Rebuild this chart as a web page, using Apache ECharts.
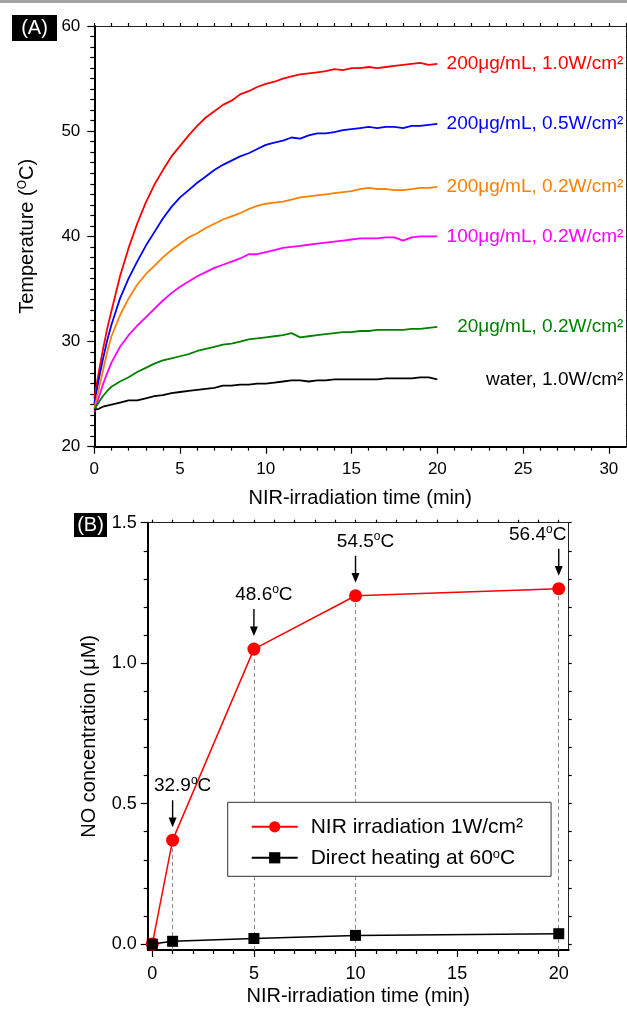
<!DOCTYPE html>
<html>
<head>
<meta charset="utf-8">
<script src="https://cdn.jsdelivr.net/npm/echarts@6/dist/echarts.min.js"></script>
<style>
  html, body { margin: 0; padding: 0; background: #fff; }
  #chart { width: 627px; height: 1009px; }
</style>
</head>
<body>
<div id="chart"></div>
<script>
const FONT = '"Liberation Sans", Arial, Helvetica, sans-serif';

// ---- Panel A: temperature vs. NIR irradiation time ----
const TIME_A = [0, 0.25, 0.5, 0.75, 1, 1.5, 2, 2.5, 3, 3.5, 4, 4.5, 5, 5.5, 6, 6.5, 7, 7.5, 8, 8.5,
  9, 9.5, 10, 10.5, 11, 11.5, 12, 12.5, 13, 13.5, 14, 14.5, 15, 15.5, 16, 16.5, 17, 17.5, 18, 18.5,
  19, 19.5, 20];

const TEMP_200_10 = [24.6, 27.0, 29.2, 31.2, 32.9, 36.2, 38.9, 41.2, 43.2, 44.9, 46.3, 47.6, 48.6, 49.6,
  50.5, 51.3, 51.9, 52.5, 52.9, 53.5, 53.8, 54.2, 54.5, 54.7, 55.0, 55.2, 55.4, 55.5, 55.6, 55.7,
  55.9, 55.8, 56.0, 56.0, 56.1, 56.0, 56.1, 56.2, 56.3, 56.4, 56.5, 56.3, 56.4];
const TEMP_200_05 = [24.1, 26.3, 28.3, 30.1, 31.6, 34.1, 36.0, 37.6, 39.1, 40.4, 41.7, 42.8, 43.7, 44.4,
  45.1, 45.7, 46.3, 46.8, 47.2, 47.6, 47.9, 48.3, 48.7, 48.9, 49.1, 49.4, 49.3, 49.6, 49.8, 49.8,
  49.9, 50.1, 50.2, 50.3, 50.4, 50.3, 50.4, 50.4, 50.3, 50.5, 50.5, 50.6, 50.7];
const TEMP_200_02 = [23.6, 25.4, 27.2, 29.0, 30.5, 32.5, 34.1, 35.4, 36.4, 37.2, 38.0, 38.7, 39.3, 39.9,
  40.3, 40.8, 41.2, 41.6, 41.9, 42.2, 42.6, 42.9, 43.1, 43.2, 43.3, 43.5, 43.7, 43.8, 43.9, 44.0,
  44.1, 44.2, 44.3, 44.5, 44.6, 44.5, 44.5, 44.4, 44.4, 44.5, 44.6, 44.6, 44.7];
const TEMP_100_02 = [23.3, 24.6, 25.9, 27.0, 28.0, 29.5, 30.6, 31.5, 32.3, 33.1, 33.9, 34.6, 35.2, 35.7,
  36.2, 36.6, 37.0, 37.3, 37.6, 37.9, 38.3, 38.3, 38.5, 38.7, 38.9, 39.0, 39.1, 39.2, 39.3, 39.4,
  39.5, 39.6, 39.7, 39.8, 39.8, 39.8, 39.9, 39.9, 39.6, 39.9, 40.0, 40.0, 40.0];
const TEMP_20_02 = [23.5, 24.2, 24.8, 25.3, 25.7, 26.2, 26.6, 27.1, 27.5, 27.9, 28.2, 28.4, 28.6, 28.8,
  29.1, 29.3, 29.5, 29.7, 29.8, 30.0, 30.2, 30.3, 30.4, 30.5, 30.6, 30.8, 30.4, 30.5, 30.6, 30.7,
  30.8, 30.9, 30.9, 31.0, 31.0, 31.1, 31.1, 31.1, 31.1, 31.2, 31.2, 31.3, 31.4];
const TEMP_WATER = [23.5, 23.6, 23.8, 23.9, 24.0, 24.2, 24.4, 24.4, 24.6, 24.8, 24.9, 25.1, 25.2, 25.3,
  25.4, 25.5, 25.6, 25.8, 25.8, 25.9, 25.9, 26.0, 26.0, 26.1, 26.2, 26.3, 26.3, 26.2, 26.3, 26.3,
  26.4, 26.4, 26.4, 26.4, 26.4, 26.4, 26.5, 26.5, 26.5, 26.5, 26.6, 26.6, 26.4];

const CURVE_VALUES = [TEMP_200_10, TEMP_200_05, TEMP_200_02, TEMP_100_02, TEMP_20_02, TEMP_WATER];
const CURVE_NAMES = [
  '200μg/mL, 1.0W/cm²',
  '200μg/mL, 0.5W/cm²',
  '200μg/mL, 0.2W/cm²',
  '100μg/mL, 0.2W/cm²',
  '20μg/mL, 0.2W/cm²',
  'water, 1.0W/cm²'
];
const CURVE_COLORS = ['#ff0000', '#0000ff', '#ff8000', '#ff00ff', '#008000', '#000000'];

const X_TICKS_A = [0, 5, 10, 15, 20, 25, 30];
const Y_TICKS_A = [20, 30, 40, 50, 60];

// ---- Panel B: NO release ----
const TIME_B = [0, 1, 5, 10, 20];
const NO_NIR = [0, 0.37, 1.05, 1.24, 1.265];
const NO_HEAT = [0, 0.01, 0.02, 0.031, 0.037];
const MARK_TIME = [1, 5, 10, 20];
const MARK_TEMP = [32.9, 48.6, 54.5, 56.4];
const LEGEND_B = ['NIR irradiation 1W/cm²', 'Direct heating at 60°C'];
const LEGEND_B_RICH = ['NIR irradiation 1W/cm²', 'Direct heating at 60{s|o}C'];

const X_TICKS_B = [0, 5, 10, 15, 20];
const Y_TICKS_B = [0, 0.5, 1.0, 1.5];

// axis extents
const X_A = [0, 31], Y_A = [20, 60];
const X_B = [-0.226, 20.49], Y_B = [-0.021, 1.5];

function steps(a, b, s) {
  const out = [];
  for (let v = a; v <= b + 1e-9; v += s) out.push(Math.round(v * 1000) / 1000);
  return out;
}
function minors(a, b, s, major) {
  return steps(a, b, s).filter(v => !major.some(m => Math.abs(m - v) < 1e-6));
}

const BLACK = '#000';

function baseAxis(o) {
  return Object.assign({
    type: 'value',
    splitLine: { show: false },
    axisLine: { show: false, onZero: false },
    axisTick: { show: false },
    axisLabel: { show: false },
    minorTick: { show: false },
    silent: true,
    nameMoveOverlap: false
  }, o);
}
function mainLine() { return { show: true, onZero: false, lineStyle: { color: BLACK, width: 2 } }; }
function thinLine() { return { show: true, onZero: false, lineStyle: { color: '#222', width: 1 } }; }
function ticks(len, values) {
  const t = { show: true, inside: false, length: len, lineStyle: { color: BLACK, width: 1.2 } };
  if (values) t.customValues = values;
  return t;
}

const xAxes = [
  // 0: panel A bottom
  baseAxis({
    gridIndex: 0, position: 'bottom', min: X_A[0], max: X_A[1],
    axisLine: mainLine(), axisTick: ticks(7, X_TICKS_A),
    axisLabel: { show: true, customValues: X_TICKS_A, margin: 14, fontSize: 17, color: BLACK, fontFamily: FONT },
    name: 'NIR-irradiation time (min)', nameLocation: 'middle', nameGap: 42,
    nameTextStyle: { fontSize: 20, color: BLACK, fontFamily: FONT }
  }),
  // 1: panel A top frame
  baseAxis({
    gridIndex: 0, position: 'top', min: X_A[0], max: X_A[1],
    axisLine: thinLine(), axisTick: ticks(3, steps(0, 31, 1))
  }),
  // 2: panel A bottom minor ticks
  baseAxis({
    gridIndex: 1, position: 'bottom', min: X_A[0], max: X_A[1],
    axisTick: ticks(4, minors(0, 30, 1, X_TICKS_A))
  }),
  // 3: panel B bottom
  baseAxis({
    gridIndex: 2, position: 'bottom', min: X_B[0], max: X_B[1],
    axisLine: mainLine(), axisTick: ticks(7, X_TICKS_B),
    axisLabel: { show: true, customValues: X_TICKS_B, margin: 15, fontSize: 18, color: BLACK, fontFamily: FONT },
    name: 'NIR-irradiation time (min)', nameLocation: 'middle', nameGap: 36,
    nameTextStyle: { fontSize: 20, color: BLACK, fontFamily: FONT }
  }),
  // 4: panel B top frame
  baseAxis({
    gridIndex: 2, position: 'top', min: X_B[0], max: X_B[1],
    axisLine: thinLine(), axisTick: ticks(3, steps(0, 20, 1))
  }),
  // 5: panel B bottom minor ticks
  baseAxis({
    gridIndex: 3, position: 'bottom', min: X_B[0], max: X_B[1],
    axisTick: ticks(4, minors(0, 20, 1, X_TICKS_B))
  })
];

const yAxes = [
  // 0: panel A left
  baseAxis({
    gridIndex: 0, position: 'left', min: Y_A[0], max: Y_A[1],
    axisLine: mainLine(), axisTick: ticks(7, Y_TICKS_A),
    axisLabel: { show: true, customValues: Y_TICKS_A, margin: 14, fontSize: 17, color: BLACK, fontFamily: FONT },
    name: 'Temperature ({s|O}C)', nameLocation: 'middle', nameGap: 56,
    nameTextStyle: {
      fontSize: 20, color: BLACK, fontFamily: FONT, lineHeight: 22,
      rich: { s: { fontSize: 12, fontFamily: FONT, color: BLACK, verticalAlign: 'top', lineHeight: 12 } }
    }
  }),
  // 1: panel A right frame
  baseAxis({
    gridIndex: 0, position: 'right', min: Y_A[0], max: Y_A[1],
    axisLine: thinLine(), axisTick: ticks(3, steps(20, 60, 1))
  }),
  // 2: panel A minor ticks (left)
  baseAxis({
    gridIndex: 1, position: 'left', min: Y_A[0], max: Y_A[1],
    axisTick: ticks(4, minors(20, 60, 1, Y_TICKS_A))
  }),
  // 3: panel B left
  baseAxis({
    gridIndex: 2, position: 'left', min: Y_B[0], max: Y_B[1],
    axisLine: mainLine(), axisTick: ticks(7, Y_TICKS_B),
    axisLabel: {
      show: true, customValues: Y_TICKS_B, margin: 11, fontSize: 18, color: BLACK, fontFamily: FONT,
      formatter: v => v.toFixed(1)
    },
    name: 'NO concentration (μM)', nameLocation: 'middle', nameGap: 48,
    nameTextStyle: { fontSize: 20, color: BLACK, fontFamily: FONT }
  }),
  // 4: panel B right frame
  baseAxis({
    gridIndex: 2, position: 'right', min: Y_B[0], max: Y_B[1],
    axisLine: thinLine(), axisTick: ticks(3, steps(0, 1.5, 0.1))
  }),
  // 5: panel B minor ticks (left)
  baseAxis({
    gridIndex: 3, position: 'left', min: Y_B[0], max: Y_B[1],
    axisTick: ticks(4, minors(0, 1.5, 0.1, Y_TICKS_B))
  })
];

const gridA = { left: 94.3, top: 26, width: 531.7, height: 420.7, outerBoundsMode: 'none' };
const gridB = { left: 147.7, top: 522.7, width: 421, height: 427.3, outerBoundsMode: 'none' };

const curveSeries = CURVE_VALUES.map((vals, i) => ({
  type: 'line',
  name: CURVE_NAMES[i],
  xAxisIndex: 0, yAxisIndex: 0,
  data: TIME_A.map((t, j) => [t, vals[j]]),
  showSymbol: false, symbol: 'none',
  lineStyle: { color: CURVE_COLORS[i], width: 1.8 },
  itemStyle: { color: CURVE_COLORS[i] },
  endLabel: {
    show: true, formatter: CURVE_NAMES[i], color: CURVE_COLORS[i],
    fontSize: 19, fontFamily: FONT, align: 'right', distance: 186
  },
  silent: true
}));

const ARROW = 'path://M3.3,0 L4.7,0 L4.7,18 L8,18 L4,28 L0,18 L3.3,18 Z';

const nirSeries = {
  type: 'line',
  name: LEGEND_B[0],
  xAxisIndex: 3, yAxisIndex: 3,
  data: TIME_B.map((t, i) => [t, NO_NIR[i]]),
  symbol: 'circle', symbolSize: 13, showSymbol: true,
  lineStyle: { color: '#ff0000', width: 1.5 },
  itemStyle: { color: '#ff0000' },
  z: 2,
  markLine: {
    silent: true, symbol: ['none', 'none'], z: 1,
    label: { show: false },
    lineStyle: { type: [4, 3], color: '#8c8c8c', width: 1 },
    data: MARK_TIME.map(t => {
      const v = NO_NIR[TIME_B.indexOf(t)];
      return [{ coord: [t, Y_B[0]] }, { coord: [t, v] }];
    })
  },
  markPoint: {
    silent: true,
    symbol: ARROW, symbolSize: [8, 27], symbolOffset: [0, -26.5],
    itemStyle: { color: BLACK },
    label: {
      show: true, position: 'top', distance: 3, color: BLACK, fontSize: 19, fontFamily: FONT,
      lineHeight: 22,
      formatter: p => p.value.toFixed(1) + '{s|o}C',
      rich: { s: { fontSize: 12, fontFamily: FONT, color: BLACK, verticalAlign: 'top', lineHeight: 12 } }
    },
    data: MARK_TIME.map((t, i) => ({
      coord: [t, NO_NIR[TIME_B.indexOf(t)]],
      value: MARK_TEMP[i],
      label: { offset: [i === MARK_TIME.length - 1 ? -21 : 10, 0] }
    }))
  }
};

const heatSeries = {
  type: 'line',
  name: LEGEND_B[1],
  xAxisIndex: 3, yAxisIndex: 3,
  data: TIME_B.map((t, i) => [t, NO_HEAT[i]]),
  symbol: 'rect', symbolSize: 11, showSymbol: true,
  lineStyle: { color: BLACK, width: 1.5 },
  itemStyle: { color: BLACK },
  z: 3
};

const option = {
  animation: false,
  backgroundColor: '#fff',
  textStyle: { fontFamily: FONT },
  grid: [gridA, Object.assign({}, gridA), gridB, Object.assign({}, gridB)],
  xAxis: xAxes,
  yAxis: yAxes,
  legend: {
    data: LEGEND_B,
    orient: 'vertical',
    left: 227.7, top: 802.3,
    padding: [14, 28, 8, 23],
    itemWidth: 46, itemHeight: 14, itemGap: 10,
    borderColor: '#333', borderWidth: 1,
    backgroundColor: '#fff',
    selectedMode: false,
    formatter: name => LEGEND_B_RICH[LEGEND_B.indexOf(name)],
    textStyle: {
      fontSize: 21, color: BLACK, fontFamily: FONT, lineHeight: 20, padding: [0, 0, 0, 8],
      rich: { s: { fontSize: 13, fontFamily: FONT, color: BLACK, verticalAlign: 'top', lineHeight: 12 } }
    }
  },
  series: curveSeries.concat([nirSeries, heatSeries]),
  graphic: [
    { type: 'rect', silent: true, shape: { x: 0, y: 0, width: 627, height: 3 }, style: { fill: '#a3a3a3' } },
    { type: 'rect', silent: true, shape: { x: 12, y: 15, width: 45, height: 26 }, style: { fill: '#000' } },
    { type: 'text', silent: true, x: 34.5, y: 28,
      style: { text: '(A)', fill: '#fff', font: '20px ' + FONT, align: 'center', verticalAlign: 'middle' } },
    { type: 'rect', silent: true, shape: { x: 74, y: 513, width: 33, height: 24 }, style: { fill: '#000' } },
    { type: 'text', silent: true, x: 90.5, y: 525.5,
      style: { text: '(B)', fill: '#fff', font: '20px ' + FONT, align: 'center', verticalAlign: 'middle' } }
  ]
};

const chart = echarts.init(document.getElementById('chart'), null, { renderer: 'canvas' });
chart.setOption(option);
</script>
</body>
</html>
